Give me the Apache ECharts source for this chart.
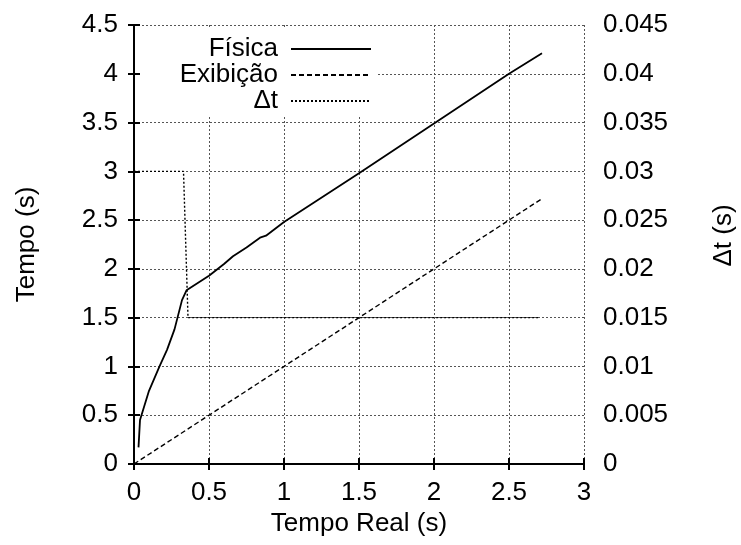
<!DOCTYPE html>
<html>
<head>
<meta charset="utf-8">
<script src="https://cdn.jsdelivr.net/npm/echarts@6/dist/echarts.min.js"></script>
<style>
  html, body { margin: 0; padding: 0; background: #fff; }
  #chart { width: 741px; height: 545px; }
</style>
</head>
<body>
<div id="chart"></div>
<script>
// Simulated time (left axis) vs. real time
const fisica = [
  [0.03, 0.17], [0.04, 0.45], [0.06, 0.55], [0.10, 0.75], [0.17, 1.00],
  [0.22, 1.17], [0.27, 1.38], [0.32, 1.68], [0.35, 1.78], [0.50, 1.93],
  [0.60, 2.05], [0.66, 2.13], [0.75, 2.22], [0.84, 2.32], [0.88, 2.34],
  [1.00, 2.48], [1.20, 2.68], [1.50, 2.98], [2.00, 3.49], [2.50, 4.00],
  [2.72, 4.21]
];
const exibicao = [[0.00, 0.00], [2.72, 2.72]];
// Time step (right axis)
const deltaT = [[0.00, 0.030], [0.33, 0.030], [0.36, 0.015], [2.70, 0.015]];

const seriesNames = ['Física', 'Exibição', '\u0394t'];
const xTicks = { min: 0, max: 3, interval: 0.5 };
const yLeftTicks = { min: 0, max: 4.5, interval: 0.5 };
const yRightTicks = { min: 0, max: 0.045, interval: 0.005 };

const font = 'Liberation Sans, Arial, sans-serif';
const fs = 26;
const fmt = v => String(parseFloat(v.toFixed(4)));

const frameLine = { show: true, lineStyle: { color: '#000', width: 2 } };
const tickIn = { show: true, inside: true, length: 6, lineStyle: { color: '#000', width: 2 } };
const gridDots = { show: true, lineStyle: { color: '#555', width: 1, type: [2, 2] } };
const labelText = { fontFamily: font, fontSize: fs, color: '#000' };

const chart = echarts.init(document.getElementById('chart'), null, { renderer: 'canvas' });
chart.setOption({
  animation: false,
  backgroundColor: '#fff',
  grid: { left: 134, right: 157, top: 25, bottom: 81, containLabel: false, outerBoundsMode: 'none' },
  legend: {
    data: seriesNames,
    orient: 'vertical',
    align: 'right',
    right: 364,
    top: 27,
    padding: [9, 5, 2, 38],
    backgroundColor: '#fff',
    itemWidth: 80,
    itemHeight: 14,
    itemGap: 0,
    itemStyle: { opacity: 0 },
    textStyle: { fontFamily: font, fontSize: fs, color: '#000', lineHeight: 23, padding: [0, 8, 0, 0] }
  },
  xAxis: [
    {
      type: 'value', position: 'bottom', ...xTicks,
      name: 'Tempo Real (s)', nameLocation: 'middle', nameGap: 41,
      nameTextStyle: labelText,
      axisLine: frameLine, axisTick: tickIn, splitLine: gridDots,
      axisLabel: { ...labelText, margin: 16, formatter: fmt }
    },
    {
      type: 'value', position: 'top', ...xTicks,
      axisLine: frameLine, axisTick: tickIn, splitLine: { show: false },
      axisLabel: { show: false }
    }
  ],
  yAxis: [
    {
      type: 'value', position: 'left', ...yLeftTicks,
      name: 'Tempo (s)', nameLocation: 'middle', nameGap: 94,
      nameTextStyle: labelText,
      axisLine: frameLine, axisTick: tickIn, splitLine: gridDots,
      axisLabel: { ...labelText, margin: 16, formatter: fmt }
    },
    {
      type: 'value', position: 'right', ...yRightTicks,
      name: '\u0394t (s)', nameLocation: 'middle', nameGap: 127,
      nameTextStyle: { ...labelText, padding: [0, 0, 0, 18] },
      axisLine: frameLine, axisTick: tickIn, splitLine: { show: false },
      axisLabel: { ...labelText, margin: 19, formatter: fmt }
    }
  ],
  series: [
    {
      name: seriesNames[0], type: 'line', data: fisica, xAxisIndex: 0, yAxisIndex: 0,
      symbol: 'none', lineStyle: { color: '#000', width: 1.8, type: 'solid' }, itemStyle: { color: '#000' }
    },
    {
      name: seriesNames[1], type: 'line', data: exibicao, xAxisIndex: 0, yAxisIndex: 0,
      symbol: 'none', lineStyle: { color: '#000', width: 1.4, type: [5, 3] }, itemStyle: { color: '#000' }
    },
    {
      name: seriesNames[2], type: 'line', data: deltaT, xAxisIndex: 0, yAxisIndex: 1,
      symbol: 'none', lineStyle: { color: '#000', width: 1.4, type: [2, 2] }, itemStyle: { color: '#000' }
    }
  ]
});
</script>
</body>
</html>
